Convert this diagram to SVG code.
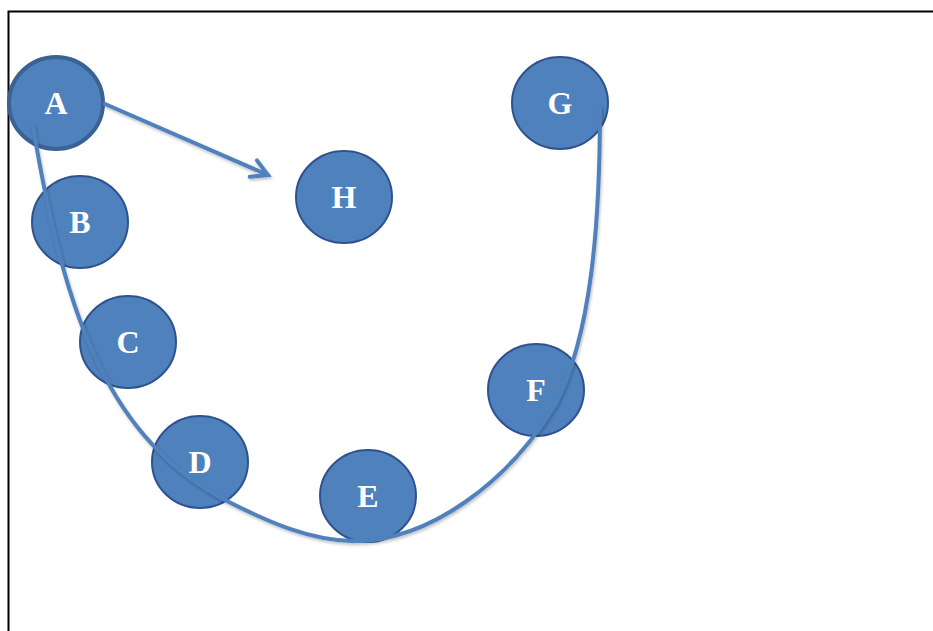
<svg xmlns="http://www.w3.org/2000/svg" width="933" height="631" viewBox="0 0 933 631">
<defs>
<style>
.node{fill:#4f81bd;stroke:#2f528f;stroke-width:2}
.nodeA{fill:#4f81bd;stroke:#3a6293;stroke-width:4}
.lbl{font-family:"Liberation Serif","Times New Roman",serif;font-weight:bold;font-size:32px;fill:#ffffff;text-anchor:middle}
.conn{fill:none;stroke:#4f81bd;stroke-width:4;stroke-linecap:round}
</style>
<marker id="chev" viewBox="0 0 12 12" refX="10" refY="6" markerWidth="6" markerHeight="6" orient="auto" markerUnits="strokeWidth">
<path d="M2,1.5 L10,6 L2,10.5" fill="none" stroke="#4f81bd" stroke-width="2" stroke-linecap="round"/>
</marker>
<filter id="sh" x="-10%" y="-10%" width="130%" height="130%">
<feDropShadow dx="1" dy="2" stdDeviation="1.5" flood-color="#000" flood-opacity="0.25"/>
</filter>
</defs>
<rect width="933" height="631" fill="#ffffff"/>
<path d="M8.5,631 L8.5,11.5 L933,11.5" fill="none" stroke="#000" stroke-width="2"/>
<g id="nodeA"><ellipse class="nodeA" cx="56" cy="103" rx="47" ry="46"/><text class="lbl" x="56" y="114">A</text></g>
<g id="nodeB"><ellipse class="node" cx="80" cy="222" rx="48" ry="46"/><text class="lbl" x="80" y="233">B</text></g>
<g id="nodeC"><ellipse class="node" cx="128" cy="342" rx="48" ry="46"/><text class="lbl" x="128" y="353">C</text></g>
<g id="nodeD"><ellipse class="node" cx="200" cy="462" rx="48" ry="46"/><text class="lbl" x="200" y="473">D</text></g>
<g id="nodeE"><ellipse class="node" cx="368" cy="496" rx="48" ry="46"/><text class="lbl" x="368" y="507">E</text></g>
<g id="nodeF"><ellipse class="node" cx="536" cy="390" rx="48" ry="46"/><text class="lbl" x="536" y="401">F</text></g>
<g id="nodeG"><ellipse class="node" cx="560" cy="103" rx="48" ry="46"/><text class="lbl" x="560" y="114">G</text></g>
<g id="nodeH"><ellipse class="node" cx="344" cy="197" rx="48" ry="46"/><text class="lbl" x="344" y="208">H</text></g>
<g id="connectors" filter="url(#sh)">
<path class="conn" d="M105,104 L268,175" marker-end="url(#chev)"/>
<path class="conn" d="M33,126 C65,320 110,440 227,501 C270,523 310,540 352,541 C430,542 510,480 555,405 C592,335 600,220 600,107"/>
</g>
</svg>
